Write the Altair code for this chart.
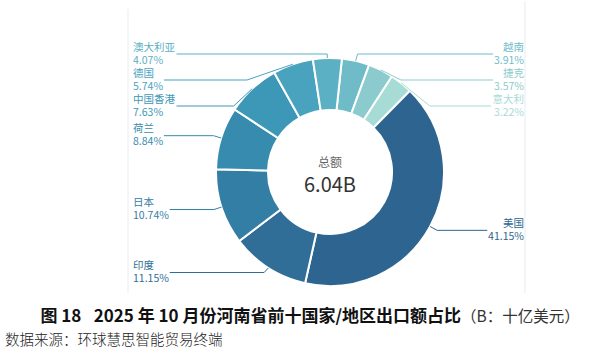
import math
import altair as alt
import pandas as pd

# ---------------- data ----------------
countries = ["越南", "捷克", "意大利", "美国", "印度", "日本", "荷兰", "中国香港", "德国", "澳大利亚"]
shares = [3.91, 3.57, 3.22, 41.15, 11.15, 10.74, 8.84, 7.63, 5.74, 4.07]
colors = ["#6fbcc8", "#8ccbcd", "#a7dbd5", "#2e6590", "#306e97", "#337ea5",
          "#378bae", "#3d97b6", "#49a3bf", "#5bb0c4"]
center_label = "总额"
center_value = "6.04B"
title_main = "图 18\u2002 2025 年 10 月份河南省前十国家/地区出口额占比"
title_unit = "（B：十亿美元）"
source_text = "数据来源：环球慧思智能贸易终端"

# ---------------- layout constants ----------------
W, H = 599, 355
CX, CY = 330, 171
R_OUT, R_IN = 114, 62
START = math.radians(6)
LEN1 = 8
GAP = 26
TOP_Y, BOT_Y = 53, 271.5
LEFT_X, RIGHT_X = 133, 524
FONT = "Noto Sans CJK SC"
LABEL_SIZE = 10.5
LINE_H = 13


def text_width(s, size=LABEL_SIZE):
    w = 0.0
    for ch in s:
        if ch.isdigit():
            w += 0.553 * size
        elif ch == ".":
            w += 0.27 * size
        elif ch == "%":
            w += 0.87 * size
        elif ord(ch) > 0x2E80:
            w += size
        else:
            w += 0.55 * size
    return w


total = sum(shares)
items = []
cum = 0.0
for i, (c, v) in enumerate(zip(countries, shares)):
    a_mid = START + 2 * math.pi * (cum + v / 2) / total
    cum += v
    s, co = math.sin(a_mid), math.cos(a_mid)
    items.append(dict(
        country=c, share=v, pct=f"{v:.2f}%", order=i, s=s, co=co,
        ex=CX + R_OUT * s, ey=CY - R_OUT * co,
        nx=CX + (R_OUT + LEN1) * s, ny=CY - (R_OUT + LEN1) * co,
        side="right" if s >= 0 else "left",
    ))

# simple overlap-avoiding label layout per side
for side in ("left", "right"):
    grp = sorted([it for it in items if it["side"] == side], key=lambda d: d["ny"])
    prev = None
    for it in grp:
        y = max(it["ny"], TOP_Y)
        if prev is not None:
            y = max(y, prev + GAP)
        it["ly"] = y
        prev = y
    if grp and grp[-1]["ly"] > BOT_Y:
        grp[-1]["ly"] = BOT_Y
        for k in range(len(grp) - 2, -1, -1):
            grp[k]["ly"] = min(grp[k]["ly"], grp[k + 1]["ly"] - GAP)

line_rows, text_rows = [], []
for it in items:
    ly = it["ly"]
    bx = it["nx"]
    # keep the first segment outside of the pie surface
    dot = (bx - it["ex"]) * it["s"] + (ly - it["ey"]) * (-it["co"])
    if dot < 0 and abs(it["s"]) > 1e-3:
        bx = it["ex"] + it["co"] * (ly - it["ey"]) / it["s"]
    tw = max(text_width(it["country"]), text_width(it["pct"]))
    if it["side"] == "left":
        endx, tx = LEFT_X + tw + 1.5, LEFT_X
    else:
        endx, tx = RIGHT_X - tw - 1.5, RIGHT_X
    for p, (px, py) in enumerate([(it["ex"], it["ey"]), (bx, ly), (endx, ly)]):
        line_rows.append(dict(country=it["country"], pt=p, x=px, y=py))
    # two-line label block centred on the leader line
    text_rows.append(dict(country=it["country"], label=[it["country"], it["pct"]],
                          side=it["side"], tx=tx, ty=ly - LINE_H / 2))

df = pd.DataFrame([{k: it[k] for k in ("country", "share", "order")} for it in items])
ldf = pd.DataFrame(line_rows)
tdf = pd.DataFrame(text_rows)

color_enc = alt.Color("country:N", scale=alt.Scale(domain=countries, range=colors), legend=None)

arc = alt.Chart(df).mark_arc(
    innerRadius=R_IN, outerRadius=R_OUT, stroke="white", strokeWidth=2
).encode(
    theta=alt.Theta("share:Q", stack=True,
                    scale=alt.Scale(domain=[0, total], range=[START, START + 2 * math.pi])),
    order=alt.Order("order:Q"),
    color=color_enc,
    x=alt.value(CX),
    y=alt.value(CY),
)

lines = alt.Chart(ldf).mark_line(strokeWidth=1).encode(
    x=alt.X("x:Q", scale=None),
    y=alt.Y("y:Q", scale=None),
    detail="country:N",
    order="pt:Q",
    color=color_enc,
)

text_layers = []
for side, align in (("left", "left"), ("right", "right")):
    sub = tdf[tdf.side == side]
    text_layers.append(
        alt.Chart(sub).mark_text(align=align, baseline="middle", fontSize=LABEL_SIZE,
                                 font=FONT, lineHeight=LINE_H).encode(
            x=alt.X("tx:Q", scale=None),
            y=alt.Y("ty:Q", scale=None),
            text="label:N",
            color=color_enc,
        )
    )

center_df = pd.DataFrame({"label": [center_label], "value": [center_value]})
center1 = alt.Chart(center_df).mark_text(fontSize=12, font=FONT, color="#666666",
                                         baseline="middle").encode(
    x=alt.value(CX), y=alt.value(162), text="label:N")
center2 = alt.Chart(center_df).mark_text(fontSize=20, font=FONT, color="#333333",
                                         baseline="middle").encode(
    x=alt.value(CX), y=alt.value(185), text="value:N")

title_df = pd.DataFrame({"main": [title_main], "unit": [title_unit], "src": [source_text]})
title1 = alt.Chart(title_df).mark_text(fontSize=17, font=FONT, fontWeight="bold",
                                       color="#111111", align="right",
                                       baseline="middle").encode(
    x=alt.value(461), y=alt.value(316), text="main:N")
title2 = alt.Chart(title_df).mark_text(fontSize=15.5, font=FONT, fontWeight="normal",
                                       color="#333333", align="left",
                                       baseline="middle").encode(
    x=alt.value(461), y=alt.value(316), text="unit:N")
source = alt.Chart(title_df).mark_text(fontSize=14.5, font=FONT, fontWeight=300,
                                       color="#222222", align="left",
                                       baseline="middle").encode(
    x=alt.value(5), y=alt.value(340), text="src:N")

rule_df = pd.DataFrame({"a": [0]})
vline1 = alt.Chart(rule_df).mark_rule(color="#e6edf2", strokeWidth=1).encode(
    x=alt.value(128), y=alt.value(8), y2=alt.value(292))
vline2 = alt.Chart(rule_df).mark_rule(color="#e6edf2", strokeWidth=1).encode(
    x=alt.value(525), y=alt.value(0), y2=alt.value(292))

chart = alt.layer(
    vline1, vline2, arc, lines, *text_layers, center1, center2, title1, title2, source
).properties(
    width=W, height=H, padding=0, background="white"
).configure_view(stroke=None)

chart.save("out.html", embed_options={"renderer": "svg", "actions": False})
